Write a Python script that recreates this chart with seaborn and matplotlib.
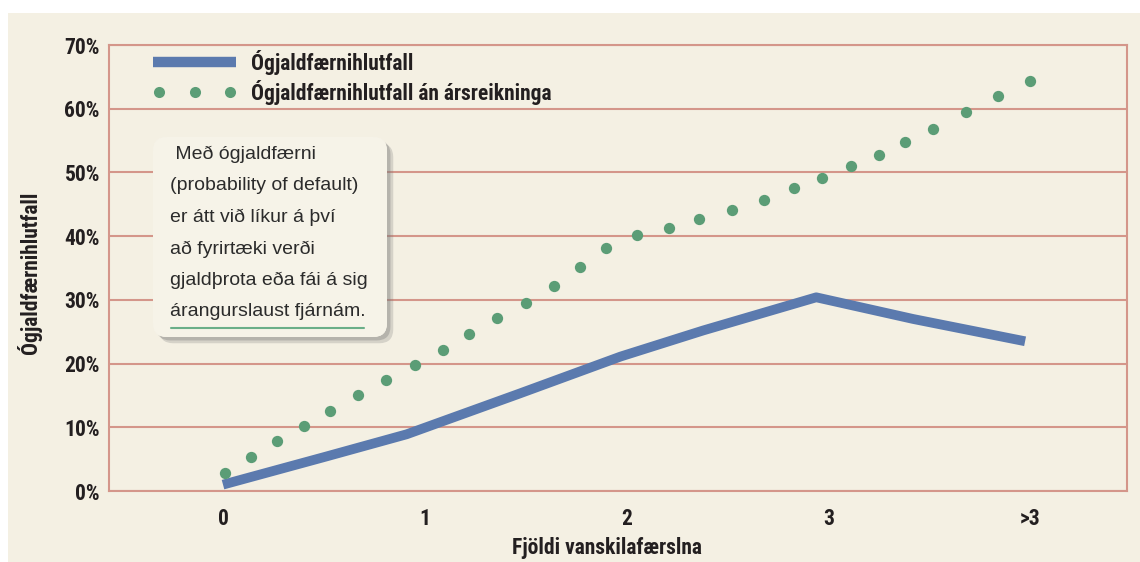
import os
import numpy as np
import matplotlib
matplotlib.use('Agg')
import matplotlib.pyplot as plt
import seaborn as sns
from matplotlib import font_manager
from matplotlib.font_manager import FontProperties
from matplotlib.legend_handler import HandlerLine2D
from matplotlib.lines import Line2D
from matplotlib.patches import FancyBboxPatch, Rectangle
import matplotlib.patheffects as pe

# ==========================================
# data
# ==========================================
categories = ['0', '1', '2', '3', '>3']
yticks = [0, 10, 20, 30, 40, 50, 60, 70]

# Ógjaldfærnihlutfall (blue line), x in category units
line_x = [0.0, 0.51, 0.91, 1.47, 1.97, 2.38, 2.94, 3.42, 3.975]
line_y = [1.0, 5.4, 8.9, 15.3, 21.1, 25.2, 30.4, 27.0, 23.5]

# Ógjaldfærnihlutfall án ársreikninga (green dots)
dot_x = [0.01, 0.14, 0.27, 0.40, 0.53, 0.67, 0.81, 0.95, 1.09, 1.22,
         1.36, 1.50, 1.64, 1.77, 1.90, 2.05, 2.21, 2.36, 2.52, 2.68,
         2.83, 2.97, 3.11, 3.25, 3.38, 3.52, 3.68, 3.84, 4.00]
dot_y = [2.9, 5.3, 7.8, 10.2, 12.6, 15.0, 17.4, 19.8, 22.2, 24.6,
         27.1, 29.5, 32.2, 35.2, 38.1, 40.2, 41.3, 42.7, 44.1, 45.7,
         47.5, 49.2, 51.0, 52.7, 54.7, 56.8, 59.5, 62.0, 64.4]

series_names = ['Ógjaldfærnihlutfall', 'Ógjaldfærnihlutfall án ársreikninga']
note_lines = [' Með ógjaldfærni', '(probability of default)', 'er átt við líkur á því',
              'að fyrirtæki verði', 'gjaldþrota eða fái á sig', 'árangurslaust fjárnám.']

# ==========================================
# style
# ==========================================
CREAM = '#F4F0E3'
BOX = '#F6F3E8'
SALMON = '#D4968A'
BLUE = '#5B7AAE'
GREEN = '#5B9D76'
INK = '#231F20'

sns.set_theme(style='white')
plt.rcParams['font.family'] = ['Liberation Sans', 'DejaVu Sans']
plt.rcParams['text.color'] = INK


def font_file(patterns):
    # look for a condensed bold face among the installed fonts
    files = {}
    for f in font_manager.fontManager.ttflist:
        base = os.path.basename(f.fname).lower()
        if 'italic' in base or 'oblique' in base:
            continue
        files[base] = f.fname
    for p in patterns:
        for base in sorted(files):
            if base.startswith(p):
                return files[base]
    return None


bold_path = font_file(['liberationsansnarrow-bold.', 'notosans-condensedbold.',
                       'robotocondensed-bold.', 'opensans_condensed-bold.',
                       'opensans-condensedbold.', 'dejavusanscondensed-bold.'])
if bold_path:
    BOLD = FontProperties(fname=bold_path)
else:
    BOLD = FontProperties(family='Liberation Sans', weight='bold')

W, H = 1140, 562
fig = plt.figure(figsize=(W / 100, H / 100), dpi=100)
fig.patch.set_facecolor('white')
fig.patches.append(Rectangle((8 / W, 0), 1, 1 - 13 / H, transform=fig.transFigure,
                             facecolor=CREAM, edgecolor='none', zorder=-10))

# size the bold face so the legend label is as wide as in the picture
renderer = fig.canvas.get_renderer()
probe_fp = BOLD.copy()
probe_fp.set_size(20)
probe = fig.text(0, 0, series_names[0], fontproperties=probe_fp)
wpx = probe.get_window_extent(renderer=renderer).width
probe.remove()
BOLD_SIZE = min(16.5, 20 * 163 / wpx)
BOLD.set_size(BOLD_SIZE)

ax = fig.add_axes([109 / W, 1 - 491 / H, (1127 - 109) / W, (491 - 45) / H])
ax.set_facecolor(CREAM)

sns.lineplot(x=line_x, y=line_y, ax=ax, color=BLUE, linewidth=7, sort=False,
             legend=False, solid_capstyle='butt', solid_joinstyle='round', zorder=3)
sns.scatterplot(x=dot_x, y=dot_y, ax=ax, color=GREEN, s=66, linewidth=0,
                legend=False, zorder=4)

ax.set_xlim(-0.565, 4.48)
ax.set_ylim(0, 70)
ax.set_xticks(range(len(categories)))
ax.set_xticklabels(categories, fontproperties=BOLD, color=INK)
ax.set_xticks([0.5, 1.5, 2.5, 3.5], minor=True)
ax.set_yticks(yticks)
ax.set_yticklabels([f'{v}%' for v in yticks], fontproperties=BOLD, color=INK)
ax.tick_params(axis='x', which='major', length=0, pad=12)
ax.tick_params(axis='x', which='minor', length=14, width=1.5, color=SALMON, direction='out')
ax.tick_params(axis='y', length=0, pad=6.5)
ax.yaxis.grid(True, color=SALMON, linewidth=1.5)
ax.set_axisbelow(True)
for s in ax.spines.values():
    s.set_color(SALMON)
    s.set_linewidth(1.5)

fig.text(607 / W, 1 - 548 / H, 'Fjöldi vanskilafærslna', ha='center', va='center',
         fontproperties=BOLD)
fig.text(30 / W, 1 - 273 / H, 'Ógjaldfærnihlutfall', ha='center', va='center',
         rotation=90, fontproperties=BOLD)

# legend
bar_handle = Line2D([], [], color=BLUE, linewidth=7.5, solid_capstyle='butt')
dot_handle = Line2D([], [], color=GREEN, linestyle='none', marker='o', markersize=8,
                    markeredgewidth=0)
fs_px = BOLD_SIZE * 100 / 72
ax.legend([bar_handle, dot_handle], series_names, loc='upper left',
          bbox_to_anchor=(153 / W, 1 - 50 / H), bbox_transform=fig.transFigure,
          frameon=False, numpoints=3, handler_map={bar_handle: HandlerLine2D(numpoints=1)},
          borderpad=0, borderaxespad=0, handlelength=83 / fs_px,
          handletextpad=15 / fs_px, labelspacing=0.23, prop=BOLD)

# note box
inch = fig.dpi_scale_trans
box = FancyBboxPatch((1.53, (H - 337) / 100), 2.34, 2.0,
                     boxstyle='round,pad=0,rounding_size=0.14', transform=inch,
                     facecolor=BOX, edgecolor='none', zorder=5,
                     path_effects=[pe.withSimplePatchShadow(offset=(4.5, -4.5), shadow_rgbFace='#7a7a7a', alpha=0.25),
                                   pe.withSimplePatchShadow(offset=(2.5, -2.5), shadow_rgbFace='#7a7a7a', alpha=0.35),
                                   pe.Normal()])
fig.add_artist(box)
for i, t in enumerate(note_lines):
    b = 159 + i * 31.5
    fig.text(1.70, (H - b) / 100, t, transform=inch, ha='left', va='baseline',
             fontsize=14, family=['Liberation Sans', 'DejaVu Sans'], color='#2b2b2b', zorder=6)
fig.add_artist(Line2D([1.71, 3.64], [(H - 327.5) / 100] * 2, transform=inch,
                      color='#6AAE88', linewidth=1.5, zorder=6))

fig.savefig('out.png', dpi=100, facecolor=fig.get_facecolor())
